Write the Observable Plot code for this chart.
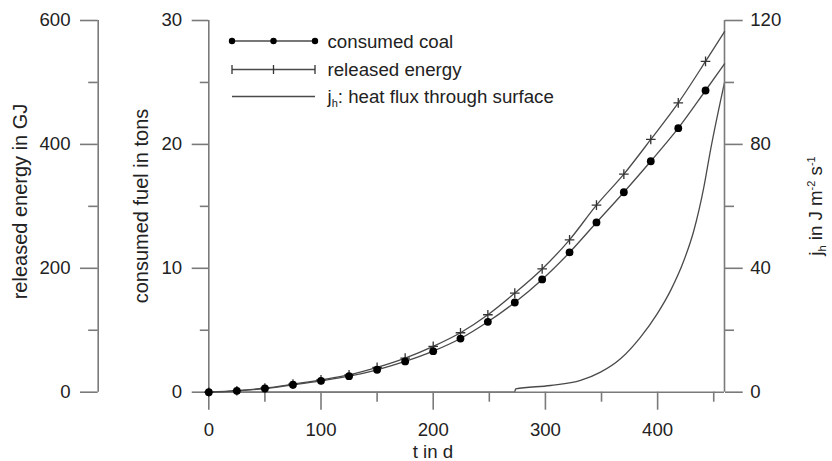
<!DOCTYPE html>
<html>
<head>
<meta charset="utf-8">
<script src="https://cdn.jsdelivr.net/npm/d3@7"></script>
<script src="https://cdn.jsdelivr.net/npm/@observablehq/plot@0.6"></script>
<style>
  html, body { margin: 0; padding: 0; background: #fff; }
  svg text { font-family: "Liberation Sans", Arial, sans-serif; }
</style>
</head>
<body>
<div id="chart"></div>
<script>
// ---- data ----
const days      = [0, 25, 50, 75, 100, 125, 150, 175, 200, 224.3, 248.7, 272.7, 297.1, 321.5, 345.5, 369.9, 393.9, 418.4, 442.7];
const coalTons  = [0, 0.11, 0.30, 0.60, 0.92, 1.29, 1.81, 2.48, 3.31, 4.33, 5.68, 7.24, 9.10, 11.28, 13.70, 16.14, 18.64, 21.31, 24.35];
const energyGJ  = [0, 2.4, 6.6, 13, 20, 28, 40, 55, 74, 96, 125, 160, 199, 246, 302, 352, 408, 467, 534];
const endDay    = 459.6;
const endCoal   = 26.5;
const endEnergy = 582;
const fluxDays   = [0, 272.5, 273.5, 304.5, 331.3, 349.1, 366.9, 384.8, 399.6, 411.5, 423.4, 432.3, 441.2, 447.1, 459.6];
const fluxValues = [0, 0, 1.1, 2.16, 3.78, 6.46, 10.8, 17.8, 25.3, 32.8, 42.5, 52.2, 66.2, 78.1, 100];

const xMajorTicks  = [0, 100, 200, 300, 400];
const xMinorTicks  = [50, 150, 250, 350, 450];
const fuelTicks    = [0, 10, 20, 30];
const fuelMinor    = [5, 15, 25];
const energyTicks  = [0, 200, 400, 600];
const energyMinor  = [100, 300, 500];
const fluxTicks    = [0, 40, 80, 120];
const fluxMinor    = [20, 60, 100];
const GJ_PER_TON   = 20;   // 600 GJ <-> 30 t
const FLUX_PER_TON = 4;    // 120 <-> 30 t

const legendLabels = ["consumed coal", "released energy", "heat flux through surface"];
const axisLabels = { energy: "released energy in GJ", fuel: "consumed fuel in tons", time: "t in d" };

// ---- tables ----
const coalPts   = days.map((t, i) => ({t, v: coalTons[i]}));
const coalLine  = [...coalPts, {t: endDay, v: endCoal}];
const energyPts = days.map((t, i) => ({t, v: energyGJ[i] / GJ_PER_TON}));
const energyLine = [...energyPts, {t: endDay, v: endEnergy / GJ_PER_TON}];
const fluxLine  = fluxDays.map((t, i) => ({t, v: fluxValues[i] / FLUX_PER_TON}));

const AX = "#7a7a7a", TXT = "#222", LN = "#4a4a4a";
const energyShift = -110.6;

const chart = Plot.plot({
  width: 832, height: 461,
  marginLeft: 208.3, marginRight: 108, marginTop: 20, marginBottom: 69.3,
  x: {domain: [0, endDay]},
  y: {domain: [0, 30]},
  style: {fontSize: "18.6px", fontFamily: '"Liberation Sans", Arial, sans-serif', color: TXT, background: "#fff", overflow: "visible"},
  marks: [
    Plot.line(fluxLine, {x: "t", y: "v", curve: "monotone-x", stroke: LN, strokeWidth: 1.3}),
    // axis lines
    Plot.ruleY([0], {stroke: AX, strokeWidth: 1.6}),
    Plot.ruleX([0], {stroke: AX, strokeWidth: 1.6}),
    Plot.ruleX([endDay], {stroke: AX, strokeWidth: 1.6}),
    Plot.ruleX([0], {dx: energyShift, stroke: AX, strokeWidth: 1.6}),
    // x axis
    Plot.axisX({ticks: xMajorTicks, tickSize: 18, tickPadding: 13, stroke: AX, strokeWidth: 1.6, fill: TXT, label: null}),
    Plot.axisX({ticks: xMinorTicks, tickSize: 10, stroke: AX, strokeWidth: 1.6, fill: "none", label: null}),
    // fuel axis (left, at frame)
    Plot.axisY({anchor: "left", ticks: fuelTicks, tickSize: 16.6, tickPadding: 10, stroke: AX, strokeWidth: 1.6, fill: TXT, label: null}),
    Plot.axisY({anchor: "left", ticks: fuelMinor, tickSize: 8.5, stroke: AX, strokeWidth: 1.6, fill: "none", label: null}),
    // energy axis (far left)
    Plot.axisY({anchor: "left", ticks: energyTicks.map(e => e / GJ_PER_TON), tickFormat: d => d * GJ_PER_TON,
      tickSize: 17.7, tickPadding: 10, dx: energyShift, stroke: AX, strokeWidth: 1.6, fill: TXT, label: null}),
    Plot.axisY({anchor: "left", ticks: energyMinor.map(e => e / GJ_PER_TON), tickSize: 9.5, dx: energyShift,
      stroke: AX, strokeWidth: 1.6, fill: "none", label: null}),
    // flux axis (right)
    Plot.axisY({anchor: "right", ticks: fluxTicks.map(f => f / FLUX_PER_TON), tickFormat: d => Math.round(d * FLUX_PER_TON),
      tickSize: 17.7, tickPadding: 8, stroke: AX, strokeWidth: 1.6, fill: TXT, label: null}),
    Plot.axisY({anchor: "right", ticks: fluxMinor.map(f => f / FLUX_PER_TON), tickSize: 9, stroke: AX, strokeWidth: 1.6, fill: "none", label: null}),
    // series
    Plot.line(energyLine, {x: "t", y: "v", curve: "monotone-x", stroke: LN, strokeWidth: 1.3}),
    Plot.line(coalLine, {x: "t", y: "v", curve: "monotone-x", stroke: LN, strokeWidth: 1.3}),
    Plot.dot(energyPts, {x: "t", y: "v", symbol: "plus", r: 3.2, stroke: "#333", strokeWidth: 1.3}),
    Plot.dot(coalPts, {x: "t", y: "v", r: 3.9, fill: "#000", stroke: "none"})
  ]
});
document.getElementById("chart").appendChild(chart);

// ---- legend and axis titles (rich text) ----
const svg = d3.select(chart);
const g = svg.append("g").attr("fill", TXT).attr("text-anchor", "start").style("font-size", "18.7px");
const rows = [41, 69.5, 96.5];
const lx0 = 232, lx1 = 315, lmid = (lx0 + lx1) / 2, ltext = 327.5;
rows.forEach((y, i) => {
  g.append("line").attr("x1", lx0).attr("x2", lx1).attr("y1", y).attr("y2", y)
    .attr("stroke", LN).attr("stroke-width", 1.3);
  if (i === 0) {
    [lx0, lmid, lx1].forEach(x => g.append("circle").attr("cx", x).attr("cy", y).attr("r", 3.2).attr("fill", "#000"));
  } else if (i === 1) {
    [lx0, lmid, lx1].forEach(x => g.append("path").attr("d", `M${x},${y - 4.5}V${y + 4.5}`)
      .attr("stroke", "#333").attr("stroke-width", 1.3));
  }
  const t = g.append("text").attr("x", ltext).attr("y", y).attr("dy", "0.36em").attr("text-anchor", "start");
  if (i === 2) {
    t.append("tspan").text("j");
    t.append("tspan").attr("font-size", "11px").attr("dy", 4).text("h");
    t.append("tspan").attr("dy", -4).text(": " + legendLabels[2]);
  } else {
    t.text(legendLabels[i]);
  }
});

// left titles
g.append("text").attr("transform", "translate(20,201.5) rotate(-90)").attr("text-anchor", "middle")
  .attr("dy", "0.35em").style("font-size", "20px").text(axisLabels.energy);
g.append("text").attr("transform", "translate(141,206) rotate(-90)").attr("text-anchor", "middle")
  .attr("dy", "0.35em").style("font-size", "20px").text(axisLabels.fuel);
// bottom title
g.append("text").attr("x", 433).attr("y", 451).attr("text-anchor", "middle").attr("dy", "0.35em").text(axisLabels.time);
// right title
const rt = g.append("text").attr("transform", "translate(815,206) rotate(-90)").attr("text-anchor", "middle").attr("dy", "0.35em");
rt.append("tspan").text("j");
rt.append("tspan").attr("font-size", "11px").attr("dy", 4).text("h");
rt.append("tspan").attr("dy", -4).text(" in J m");
rt.append("tspan").attr("font-size", "11px").attr("dy", -7).text("-2");
rt.append("tspan").attr("dy", 7).text(" s");
rt.append("tspan").attr("font-size", "11px").attr("dy", -7).text("-1");
</script>
</body>
</html>
